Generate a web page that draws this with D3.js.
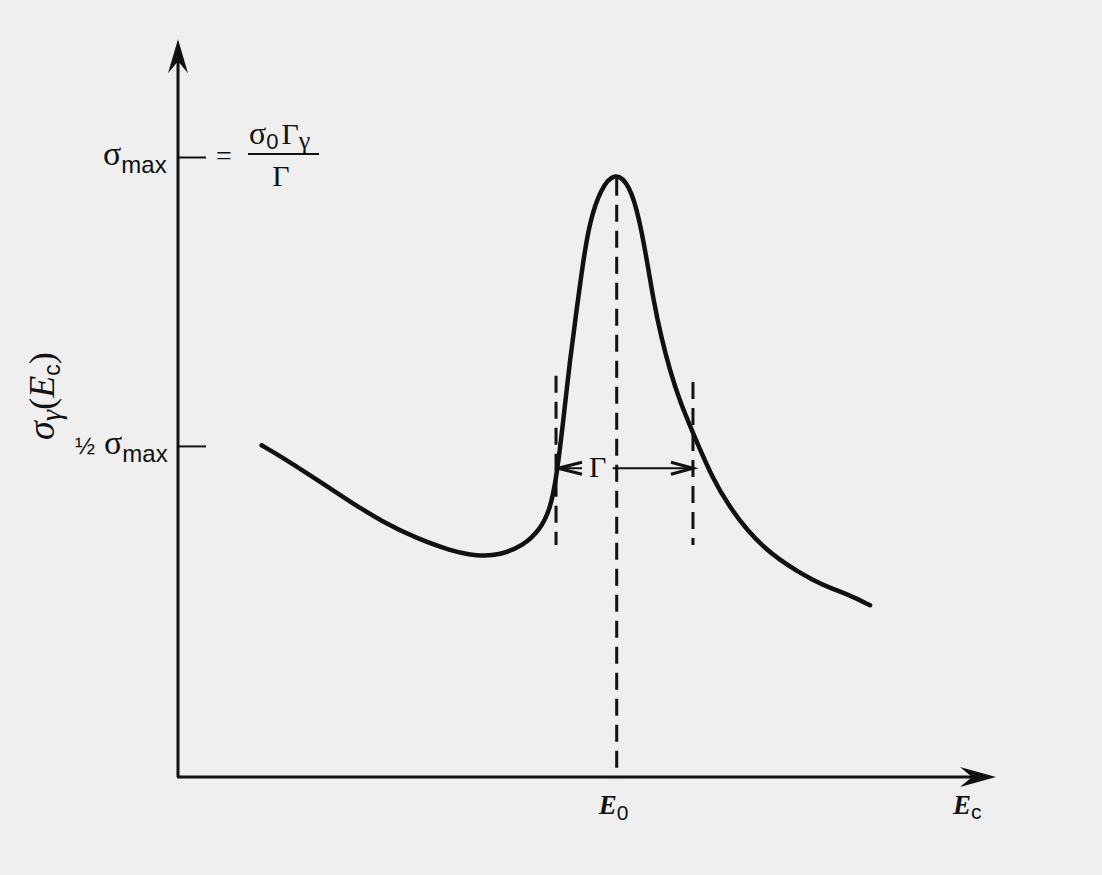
<!DOCTYPE html>
<html><head><meta charset="utf-8">
<script src="https://cdn.jsdelivr.net/npm/d3@7/dist/d3.min.js"></script>
<style>html,body{margin:0;padding:0;background:#efefef;}svg{display:block;}</style>
</head><body>
<script>
// ---- data (energy in arbitrary units, cross-section relative to sigma_max) ----
const curveE     = [1.02,1.28,1.70,2.10,2.50,2.91,3.32,3.65,3.93,4.21,4.41,4.54,4.62,4.70,4.78,4.87,4.94,5.02,5.15,5.33,5.51,5.63,5.72,5.80,5.89,6.00,6.12,6.28,6.52,6.73,6.94,7.15,7.34,7.54,7.74,7.95,8.16,8.44];
const curveSigma = [0.535,0.515,0.479,0.444,0.411,0.385,0.365,0.356,0.358,0.373,0.398,0.431,0.487,0.576,0.673,0.762,0.831,0.895,0.948,0.977,0.955,0.898,0.832,0.768,0.711,0.655,0.606,0.555,0.481,0.435,0.398,0.370,0.350,0.333,0.318,0.305,0.295,0.277];
const yTickValues = [0.534, 1.0];
const E0 = 5.35;
const gammaLeft = 4.61, gammaRight = 6.28;
const gammaLevel = 0.498;
const halfDashTop = [0.647, 0.637], halfDashBottom = 0.374;
const xMax = 10, yMax = 1.19;

const W = 1102, H = 875;
const svg = d3.select("body").append("svg").attr("width", W).attr("height", H);
svg.append("rect").attr("width", W).attr("height", H).attr("fill", "#efefef");

const x = d3.scaleLinear().domain([0, 10]).range([178, 998]);
const y = d3.scaleLinear().domain([0, 1]).range([777, 157]);

const ink = "#111";
const serif = "'Liberation Serif','DejaVu Serif',serif";
const sans = "'Liberation Sans','DejaVu Sans',sans-serif";

// axes lines
svg.append("line").attr("x1", x(0)).attr("y1", y(0)).attr("x2", x(0)).attr("y2", y(yMax) + 10)
  .attr("stroke", ink).attr("stroke-width", 3);
svg.append("line").attr("x1", x(0) - 1).attr("y1", y(0)).attr("x2", x(xMax) - 10).attr("y2", y(0))
  .attr("stroke", ink).attr("stroke-width", 3);
// arrowheads
const ty = y(yMax), tx = x(0);
svg.append("path").attr("d", `M${tx},${ty} L${tx-10},${ty+34} L${tx},${ty+22} L${tx+10},${ty+34} Z`).attr("fill", ink);
const ax = x(xMax) - 2, ay = y(0);
svg.append("path").attr("d", `M${ax},${ay} L${ax-36},${ay-10} L${ax-24},${ay} L${ax-36},${ay+10} Z`).attr("fill", ink);

// y ticks via d3 axis
const yAxis = d3.axisRight(y).tickValues(yTickValues).tickSize(28).tickFormat("");
const gY = svg.append("g").attr("transform", `translate(${x(0)},0)`).call(yAxis);
gY.select(".domain").remove();
gY.selectAll(".tick line").attr("stroke", ink).attr("stroke-width", 2);

// curve
const pts = curveE.map((e, i) => [e, curveSigma[i]]);
const line = d3.line().x(d => x(d[0])).y(d => y(d[1])).curve(d3.curveBasis);
svg.append("path").attr("d", line(pts)).attr("fill", "none").attr("stroke", ink)
  .attr("stroke-width", 4.5).attr("stroke-linecap", "round");

// dashed lines
const dash = "17,9";
svg.append("line").attr("x1", x(E0)).attr("x2", x(E0)).attr("y1", y(0.965)).attr("y2", y(0))
  .attr("stroke", ink).attr("stroke-width", 3).attr("stroke-dasharray", dash);
[[gammaLeft, halfDashTop[0]], [gammaRight, halfDashTop[1]]].forEach(([e, t]) => {
  svg.append("line").attr("x1", x(e)).attr("x2", x(e)).attr("y1", y(t)).attr("y2", y(halfDashBottom))
    .attr("stroke", ink).attr("stroke-width", 3).attr("stroke-dasharray", dash);
});

// Gamma width arrows
const gy = y(gammaLevel);
const lx = x(gammaLeft) + 2, rx = x(gammaRight);
svg.append("line").attr("x1", lx).attr("x2", lx + 24).attr("y1", gy).attr("y2", gy).attr("stroke", ink).attr("stroke-width", 2);
svg.append("path").attr("d", `M${lx+24},${gy-6} L${lx},${gy} L${lx+24},${gy+6}`).attr("fill", "none").attr("stroke", ink).attr("stroke-width", 3);
svg.append("line").attr("x1", x(E0) - 4).attr("x2", rx).attr("y1", gy).attr("y2", gy).attr("stroke", ink).attr("stroke-width", 2);
svg.append("path").attr("d", `M${rx-22},${gy-6} L${rx},${gy} L${rx-22},${gy+6}`).attr("fill", "none").attr("stroke", ink).attr("stroke-width", 3);
svg.append("text").attr("x", x(E0) - 19).attr("y", gy + 9).attr("font-family", serif).attr("font-size", 30)
  .attr("text-anchor", "middle").attr("fill", ink).text("Γ");

// sigma_max label
const tmax = svg.append("text").attr("x", 103).attr("y", y(1) + 8).attr("fill", ink);
tmax.append("tspan").attr("font-family", serif).attr("font-size", 34).text("σ");
tmax.append("tspan").attr("font-family", sans).attr("font-size", 24).attr("dy", 8).text("max");

// = sigma0 Gamma_gamma / Gamma
svg.append("text").attr("x", 216).attr("y", y(1) + 8).attr("font-family", serif).attr("font-size", 28).attr("fill", ink).text("=");
const num = svg.append("text").attr("x", 249).attr("y", y(1) - 13).attr("fill", ink).attr("font-family", serif);
num.append("tspan").attr("font-size", 32).text("σ");
num.append("tspan").attr("font-size", 22).attr("font-family", sans).attr("dy", 5).text("0");
num.append("tspan").attr("font-size", 30).attr("dy", -5).attr("dx", 3).text("Γ");
num.append("tspan").attr("font-size", 26).attr("dy", 5).text("γ");
svg.append("line").attr("x1", 248).attr("x2", 319).attr("y1", y(1) - 3).attr("y2", y(1) - 3).attr("stroke", ink).attr("stroke-width", 2);
svg.append("text").attr("x", 281).attr("y", y(1) + 29).attr("text-anchor", "middle").attr("font-family", serif)
  .attr("font-size", 30).attr("fill", ink).text("Γ");

// 1/2 sigma_max label
const th = svg.append("text").attr("x", 75).attr("y", y(yTickValues[0]) + 8).attr("fill", ink);
th.append("tspan").attr("font-family", sans).attr("font-size", 24).text("½");
th.append("tspan").attr("font-family", serif).attr("font-size", 34).attr("dx", 9).text("σ");
th.append("tspan").attr("font-family", sans).attr("font-size", 24).attr("dy", 8).text("max");

// y-axis title
const yt = svg.append("text").attr("transform", `translate(54,440) rotate(-90)`).attr("fill", ink).attr("font-family", serif);
yt.append("tspan").attr("font-size", 38).attr("font-style", "italic").text("σ");
yt.append("tspan").attr("font-size", 29).attr("font-style", "italic").attr("dy", 7).text("γ");
yt.append("tspan").attr("font-size", 36).attr("dy", -7).text("(");
yt.append("tspan").attr("font-size", 36).attr("font-style", "italic").text("E");
yt.append("tspan").attr("font-size", 23).attr("font-family", sans).attr("dy", 6).text("c");
yt.append("tspan").attr("font-size", 36).attr("dy", -6).text(")");

// x labels
const e0 = svg.append("text").attr("x", x(E0) - 18).attr("y", 814).attr("fill", ink).attr("font-family", serif);
e0.append("tspan").attr("font-size", 27).attr("font-style", "italic").attr("font-weight", "bold").text("E");
e0.append("tspan").attr("font-size", 21).attr("font-family", sans).attr("dy", 6).text("0");
const ec = svg.append("text").attr("x", 953).attr("y", 814).attr("fill", ink).attr("font-family", serif);
ec.append("tspan").attr("font-size", 27).attr("font-style", "italic").attr("font-weight", "bold").text("E");
ec.append("tspan").attr("font-size", 21).attr("font-family", sans).attr("dy", 5).text("c");
</script>
</body></html>
